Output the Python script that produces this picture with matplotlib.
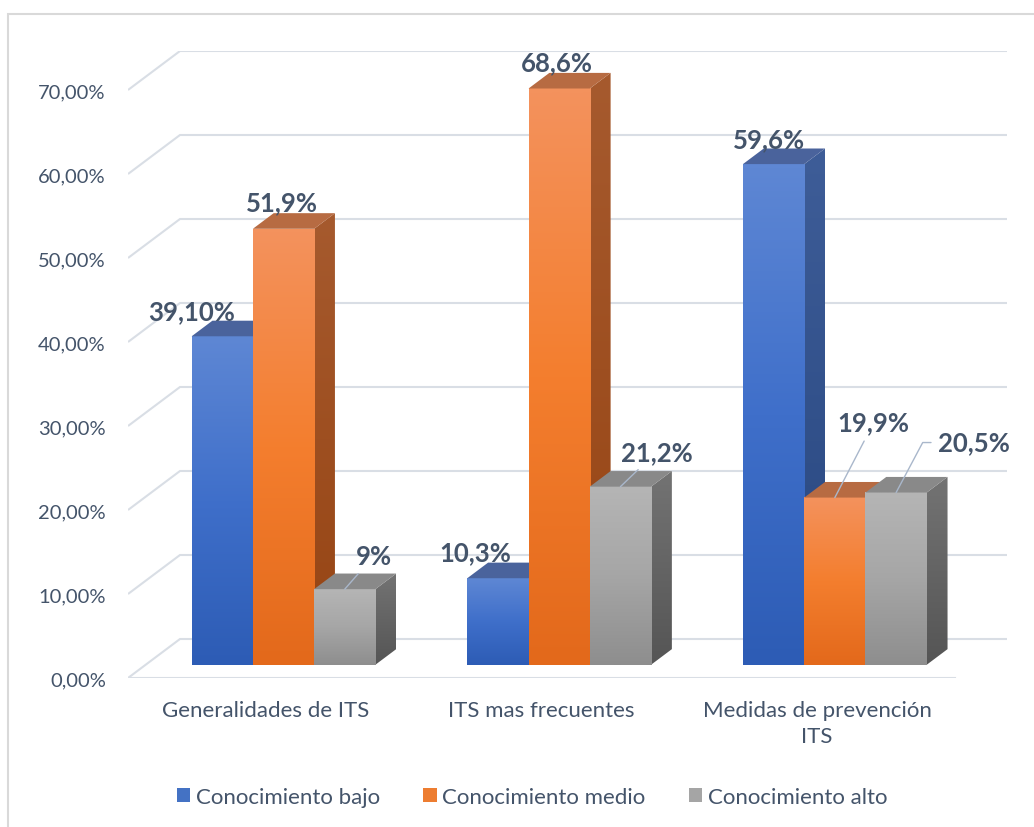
import numpy as np
import matplotlib
matplotlib.use("Agg")
import matplotlib.pyplot as plt
from matplotlib.colors import LinearSegmentedColormap
from matplotlib.patches import Polygon, Patch, Rectangle

categories = ["Generalidades de ITS", "ITS mas frecuentes", "Medidas de prevención\nITS"]
series_names = ["Conocimiento bajo", "Conocimiento medio", "Conocimiento alto"]
bajo = [39.1, 10.3, 59.6]
medio = [51.9, 68.6, 19.9]
alto = [9.0, 21.2, 20.5]
# decimals printed on each data label
bajo_dec = [2, 1, 1]
medio_dec = [1, 1, 1]
alto_dec = [0, 1, 1]
y_ticks = [0, 10, 20, 30, 40, 50, 60, 70]

values = [bajo, medio, alto]
decimals = [bajo_dec, medio_dec, alto_dec]

# face colours: front (top, mid, bottom), side (top, bottom), lid
front_cols = [("#5E87D4", "#3F6FCA", "#2D5CB5"),
              ("#F3925D", "#F47E2E", "#E3691B"),
              ("#B5B5B5", "#A6A6A6", "#8E8E8E")]
side_cols = [("#3E5D98", "#27467F"),
             ("#A65A2E", "#964413"),
             ("#737373", "#555555")]
lid_cols = ["#4A639C", "#B76B42", "#898989"]
legend_cols = ["#4472C4", "#ED7D31", "#A5A5A5"]

# label offsets in points from the top of each bar
label_off = [[(-22, 18), (-16, 19), (-3, 18)],
             [(-1, 19), (-2, 19), (28, 54)],
             [(21, 24), (26, 25), (56, 36)]]
leaders = {(2, 0): "arc3", (2, 1): "arc3", (1, 2): "arc3",
           (2, 2): "angle,angleA=0,angleB=62,rad=0"}

text_col = "#44546A"
grid_col = "#D9DEE5"

plt.rcParams["font.family"] = ["Lato", "DejaVu Sans"]

fig = plt.figure(figsize=(10.34, 8.28), dpi=100)
ax = fig.add_axes([128 / 1034, 149 / 828, 879 / 1034, 627 / 828])
ax.set_xlim(-0.5, -0.5 + 879 / 275.67)
ax.set_ylim(0, 627 / 8.4)
ax.set_autoscale_on(False)
for s in ax.spines.values():
    s.set_visible(False)

# depth of the fake 3d box, and where the bars sit inside it
DX, DY = 0.1886, 4.643
f0, fd = 0.34, 0.40
n_cat = len(categories)
w = 1 / 4.5

# walls and gridlines
for t in y_ticks:
    ax.plot([-0.5, -0.5 + DX, n_cat - 0.5 + DX], [t, t + DY, t + DY],
            color=grid_col, lw=1.5, zorder=1, solid_capstyle="butt")
ax.plot([-0.5, n_cat - 0.5], [0, 0], color=grid_col, lw=1.5, zorder=1)


def gradient(cols):
    return LinearSegmentedColormap.from_list("g", list(cols)[::-1])


ramp = np.linspace(0, 1, 128).reshape(-1, 1)

z = 2
for i in range(n_cat):
    for j in range(3):
        v = values[j][i]
        x0 = i - 1.5 * w + j * w + f0 * DX
        y0 = f0 * DY
        ddx, ddy = fd * DX, fd * DY

        # right side face
        side = Polygon([(x0 + w, y0), (x0 + w + ddx, y0 + ddy),
                        (x0 + w + ddx, y0 + v + ddy), (x0 + w, y0 + v)],
                       closed=True, transform=ax.transData)
        im = ax.imshow(ramp, origin="lower", aspect="auto", cmap=gradient(side_cols[j]),
                       extent=[x0 + w, x0 + w + ddx, y0, y0 + v + ddy],
                       interpolation="bilinear", zorder=z)
        im.set_clip_path(side)

        # front face
        ax.imshow(ramp, origin="lower", aspect="auto", cmap=gradient(front_cols[j]),
                  extent=[x0, x0 + w, y0, y0 + v], interpolation="bilinear", zorder=z + 0.01)

        # lid
        ax.add_patch(Polygon([(x0, y0 + v), (x0 + w, y0 + v),
                              (x0 + w + ddx, y0 + v + ddy), (x0 + ddx, y0 + v + ddy)],
                             closed=True, facecolor=lid_cols[j], edgecolor="none", zorder=z + 0.02))

        txt = f"{v:.{decimals[j][i]}f}".replace(".", ",") + "%"
        arrow = None
        if (j, i) in leaders:
            arrow = dict(arrowstyle="-", color="#A9B7CB", lw=1.0,
                         connectionstyle=leaders[(j, i)], shrinkA=3, shrinkB=0)
            if leaders[(j, i)].startswith("angle"):
                arrow["relpos"] = (0, 0.5)
        ax.annotate(txt, xy=(x0 + w / 2, y0 + v), xytext=label_off[j][i],
                    textcoords="offset points", ha="center", va="center",
                    fontsize=18.5, fontweight="bold", color=text_col,
                    arrowprops=arrow, zorder=10)
        z += 0.1

ax.set_yticks(y_ticks)
ax.set_yticklabels([f"{t:.2f}".replace(".", ",") + "%" for t in y_ticks])
ax.set_xticks(range(n_cat))
ax.set_xticklabels(categories, linespacing=1.35)
ax.tick_params(axis="both", length=0, labelcolor=text_col)
ax.tick_params(axis="y", pad=16, labelsize=14.5)
ax.tick_params(axis="x", pad=16, labelsize=16)

handles = [Patch(facecolor=c, edgecolor="none") for c in legend_cols]
fig.legend(handles, series_names, loc="center", bbox_to_anchor=(0.5145, 0.036), ncol=3,
           frameon=False, fontsize=16, labelcolor=text_col, handlelength=0.6,
           handleheight=0.6, handletextpad=0.25, columnspacing=1.95)

# chart frame (cut off on the right and bottom)
fig.patches.append(Rectangle((8 / 1034, -0.1), 1.2, (828 - 15) / 828 + 0.1,
                             transform=fig.transFigure, fill=False,
                             edgecolor="#D9D9D9", lw=1.5))

fig.savefig("out.png", dpi=100)
